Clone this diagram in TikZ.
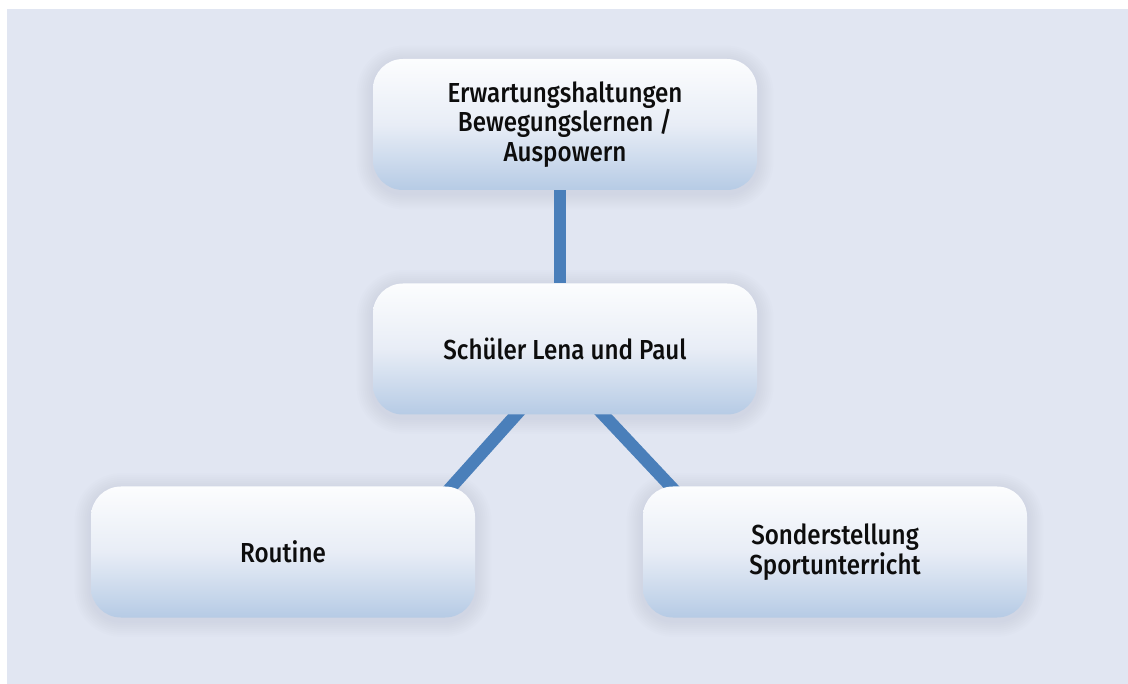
\documentclass[tikz,border=0pt]{standalone}
\usepackage{fontspec}
\setmainfont{Fira Sans}[UprightFont=* Medium, FakeStretch=0.88]
\usetikzlibrary{calc}
\pgfdeclarelayer{base}
\pgfdeclarelayer{glow}
\pgfdeclarelayer{background}
\pgfsetlayers{base,glow,background,main}
\definecolor{pagebg}{HTML}{E1E6F2}
\definecolor{boxtop}{HTML}{FCFDFE}
\definecolor{boxmid}{HTML}{E8EDF6}
\definecolor{boxbot}{HTML}{B6CBE5}
\definecolor{linkblue}{HTML}{4A7FBA}
\definecolor{glowcol}{HTML}{7A86A8}
\tikzset{
  infobox/.style={rounded corners=30pt, minimum width=384pt, minimum height=131pt,
    top color=boxtop, bottom color=boxbot, middle color=boxmid,
    align=center, font=\fontsize{27.5}{29.5}\selectfont, text=black!95, inner sep=0pt},
  link/.style={draw=linkblue, line width=12.5pt},
}
\newcommand{\boxglow}[1]{%
  \foreach \k in {2,4,...,16} {
    \fill[glowcol, opacity=0.016, rounded corners=30pt+\k pt]
      ($(#1.south west)+(-\k pt,-\k pt-3pt)$) rectangle ($(#1.north east)+(\k pt,\k pt-3pt)$);
  }}
\begin{document}
\begin{tikzpicture}[x=1pt, y=-1pt]
  \useasboundingbox (0,0) rectangle (1128,684);
  \begin{pgfonlayer}{base}
    \fill[white] (0,0) rectangle (1128,684);
    \fill[pagebg] (7,9) rectangle (1128,684);
  \end{pgfonlayer}

  \node[infobox] (expect) at (565,124.5) {Erwartungshaltungen\\Bewegungslernen /\\Auspowern};
  \node[infobox] (pupils) at (565,349) {Schüler Lena und Paul};
  \node[infobox] (routine) at (283,552) {Routine};
  \node[infobox] (special) at (835,552) {Sonderstellung\\Sportunterricht};

  \begin{pgfonlayer}{glow}
    \boxglow{expect}
    \boxglow{pupils}
    \boxglow{routine}
    \boxglow{special}
  \end{pgfonlayer}

  \begin{pgfonlayer}{background}
    \draw[link] ($(expect.south)+(-5pt,0)$) -- ($(pupils.north)+(-5pt,0)$);
    \draw[link] ($(pupils.south)+(-39pt,11pt)$) -- ($(routine.north)+(160pt,-10pt)$);
    \draw[link] ($(pupils.south)+(28pt,11pt)$) -- ($(special.north)+(-155pt,-10pt)$);
  \end{pgfonlayer}
\end{tikzpicture}
\end{document}
